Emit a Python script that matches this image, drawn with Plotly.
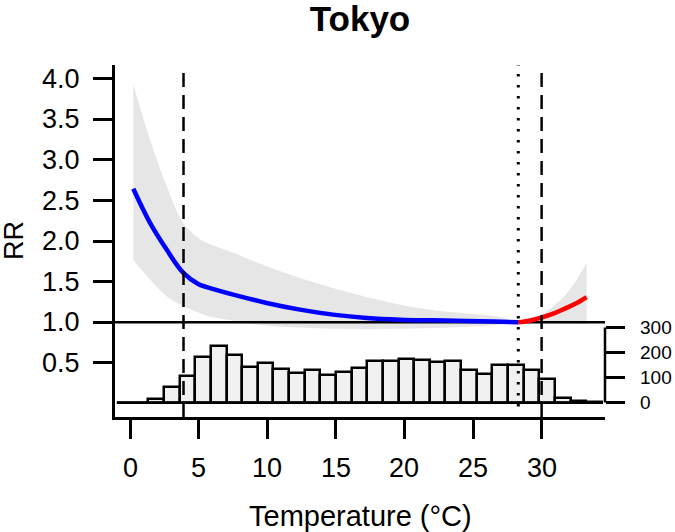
import plotly.graph_objects as go

# ---------------- data ----------------
title_text = "Tokyo"
x_title = "Temperature (°C)"
y_title = "RR"

# cold-side exposure-response (blue)
cold_temp = [0.24, 1.46, 2.67, 3.89, 5.0, 5.59, 7.53, 9.96, 12.39, 14.8, 17.25, 19.7, 22.1, 24.5, 26.5, 28.3]
cold_rr = [2.645, 2.225, 1.896, 1.609, 1.47, 1.435, 1.342, 1.239, 1.157, 1.095, 1.054, 1.033, 1.025, 1.018, 1.01, 1.0]

# heat-side exposure-response (red)
heat_temp = [28.3, 29.1, 29.9, 30.9, 31.8, 32.6, 33.28]
heat_rr = [1.0, 1.02, 1.054, 1.11, 1.178, 1.24, 1.31]

# 95% confidence band
ci_temp = [0.24, 1.46, 2.67, 3.89, 5.0, 5.59, 7.53, 9.96, 12.39, 14.8, 17.25, 19.7, 22.1, 24.5, 26.9, 28.3, 29.9, 31.8, 33.28]
ci_upper = [3.93, 3.25, 2.68, 2.225, 2.04, 1.98, 1.856, 1.69, 1.547, 1.424, 1.313, 1.218, 1.148, 1.11, 1.07, 1.0, 1.09, 1.35, 1.73]
ci_lower = [1.77, 1.527, 1.32, 1.197, 1.12, 1.08, 1.02, 0.96, 0.935, 0.92, 0.915, 0.92, 0.93, 0.945, 0.97, 1.0, 0.995, 0.985, 0.98]

mmt_temp = 28.3            # minimum mortality temperature (dotted)
percentile_temps = [3.9, 30.0]  # 2.5th / 97.5th percentiles (dashed)
ref_rr = 1.0

# temperature distribution histogram
hist_start = -0.946
hist_width = 1.14
hist_counts = [0, 0, 14, 62, 105, 182, 228, 189, 143, 158, 133, 118, 129, 111, 124, 138,
               165, 168, 174, 172, 161, 168, 131, 116, 149, 149, 129, 93, 19, 7, 2]

x_ticks = [0, 5, 10, 15, 20, 25, 30]
x_tick_labels = ["0", "5", "10", "15", "20", "25", "30"]
y_ticks = [0.5, 1.0, 1.5, 2.0, 2.5, 3.0, 3.5, 4.0]
y_tick_labels = ["0.5", "1.0", "1.5", "2.0", "2.5", "3.0", "3.5", "4.0"]
y2_ticks = [0, 100, 200, 300]
y2_tick_labels = ["0", "100", "200", "300"]

x_range = [-1.093, 34.62]
y_range = [-0.166, 4.17]
y2_range = [-58, 1350]

# ---------------- figure ----------------
FONT = "Liberation Sans, Arial, sans-serif"
fig = go.Figure()

# confidence band
fig.add_trace(go.Scatter(x=ci_temp, y=ci_lower, mode="lines", line=dict(width=0, color="#E6E6E6", shape="spline"),
                         hoverinfo="skip"))
fig.add_trace(go.Scatter(x=ci_temp, y=ci_upper, mode="lines", line=dict(width=0, color="#E6E6E6", shape="spline"),
                         fill="tonexty", fillcolor="#E6E6E6", hoverinfo="skip"))

# reference line RR = 1
fig.add_trace(go.Scatter(x=x_range, y=[ref_rr, ref_rr], mode="lines", line=dict(color="black", width=2.5),
                         hoverinfo="skip"))

# curves
fig.add_trace(go.Scatter(x=cold_temp, y=cold_rr, mode="lines", line=dict(color="#0000FF", width=4.5, shape="spline")))
fig.add_trace(go.Scatter(x=heat_temp, y=heat_rr, mode="lines", line=dict(color="#FF0000", width=4.5, shape="spline")))

# histogram
centers = [hist_start + (i + 0.5) * hist_width for i in range(len(hist_counts))]
edges_end = hist_start + len(hist_counts) * hist_width
fig.add_trace(go.Scatter(x=[hist_start, edges_end], y=[0, 0], yaxis="y2", mode="lines",
                         line=dict(color="black", width=2.5), hoverinfo="skip"))
fig.add_trace(go.Bar(x=centers, y=hist_counts, width=hist_width, yaxis="y2",
                     marker=dict(color="#F0F0F0", line=dict(color="black", width=2.5))))

# vertical lines
shapes = []
for t in percentile_temps:
    shapes.append(dict(type="line", xref="x", yref="paper", x0=t, x1=t, y0=0, y1=1, layer="above",
                       line=dict(color="black", width=2.5, dash="14px,8px")))
shapes.append(dict(type="line", xref="x", yref="paper", x0=mmt_temp, x1=mmt_temp, y0=0.03, y1=1, layer="above",
                   line=dict(color="black", width=3, dash="2.5px,8.5px")))
# right axis line spanning histogram ticks
shapes.append(dict(type="line", xref="paper", yref="y2", x0=1, x1=1, y0=y2_ticks[0], y1=y2_ticks[-1],
                   line=dict(color="black", width=2.5)))

# tick labels as text annotations
annotations = []
for v, lab in zip(x_ticks, x_tick_labels):
    annotations.append(dict(text=lab, xref="x", yref="paper", x=v, y=0, yshift=-51, xanchor="center",
                            yanchor="middle", showarrow=False, font=dict(size=27)))
for v, lab in zip(y_ticks, y_tick_labels):
    annotations.append(dict(text=lab, xref="paper", yref="y", x=0, y=v, xshift=-33, xanchor="right",
                            yanchor="middle", showarrow=False, font=dict(size=27)))
for v, lab in zip(y2_ticks, y2_tick_labels):
    annotations.append(dict(text=lab, xref="paper", yref="y2", x=1, y=v, xshift=33, xanchor="left",
                            yanchor="middle", showarrow=False, font=dict(size=19)))
annotations += [
    dict(text=x_title, xref="paper", yref="paper", x=0.5, y=-(516 - 417) / 352, xanchor="center",
         yanchor="middle", showarrow=False, font=dict(size=29)),
    dict(text=y_title, xref="paper", yref="paper", x=(14 - 115) / 490, y=0.5, xanchor="center",
         yanchor="middle", textangle=-90, showarrow=False, font=dict(size=27)),
]

fig.update_layout(
    width=675, height=532,
    margin=dict(l=115, r=70, t=65, b=115, autoexpand=False),
    plot_bgcolor="white", paper_bgcolor="white",
    showlegend=False,
    bargap=0,
    font=dict(family=FONT, color="black"),
    title=dict(text="<b>" + title_text + "</b>", x=0.5, xref="paper", xanchor="center",
               yref="container", y=1 - 19 / 532, yanchor="middle",
               font=dict(size=35, family=FONT, color="black")),
    xaxis=dict(range=x_range, tickvals=x_ticks, ticks="outside", ticklen=19, tickwidth=2.5, tickcolor="black",
               showline=True, linewidth=2.5, linecolor="black", showgrid=False, zeroline=False,
               showticklabels=False, automargin=False),
    yaxis=dict(range=y_range, tickvals=y_ticks, ticks="outside", ticklen=19, tickwidth=2.5,
               tickcolor="black", showline=True, linewidth=2.5, linecolor="black", showgrid=False,
               zeroline=False, showticklabels=False, automargin=False),
    yaxis2=dict(range=y2_range, overlaying="y", side="right", anchor="x", tickvals=y2_ticks, ticks="outside",
                ticklen=19, tickwidth=2.5, tickcolor="black", showline=False, showgrid=False, zeroline=False,
                showticklabels=False, automargin=False),
    shapes=shapes,
    annotations=annotations,
)

fig.write_html("out.html", config={"displayModeBar": False},
               post_script="document.body.style.margin='0';document.body.style.padding='0';")
